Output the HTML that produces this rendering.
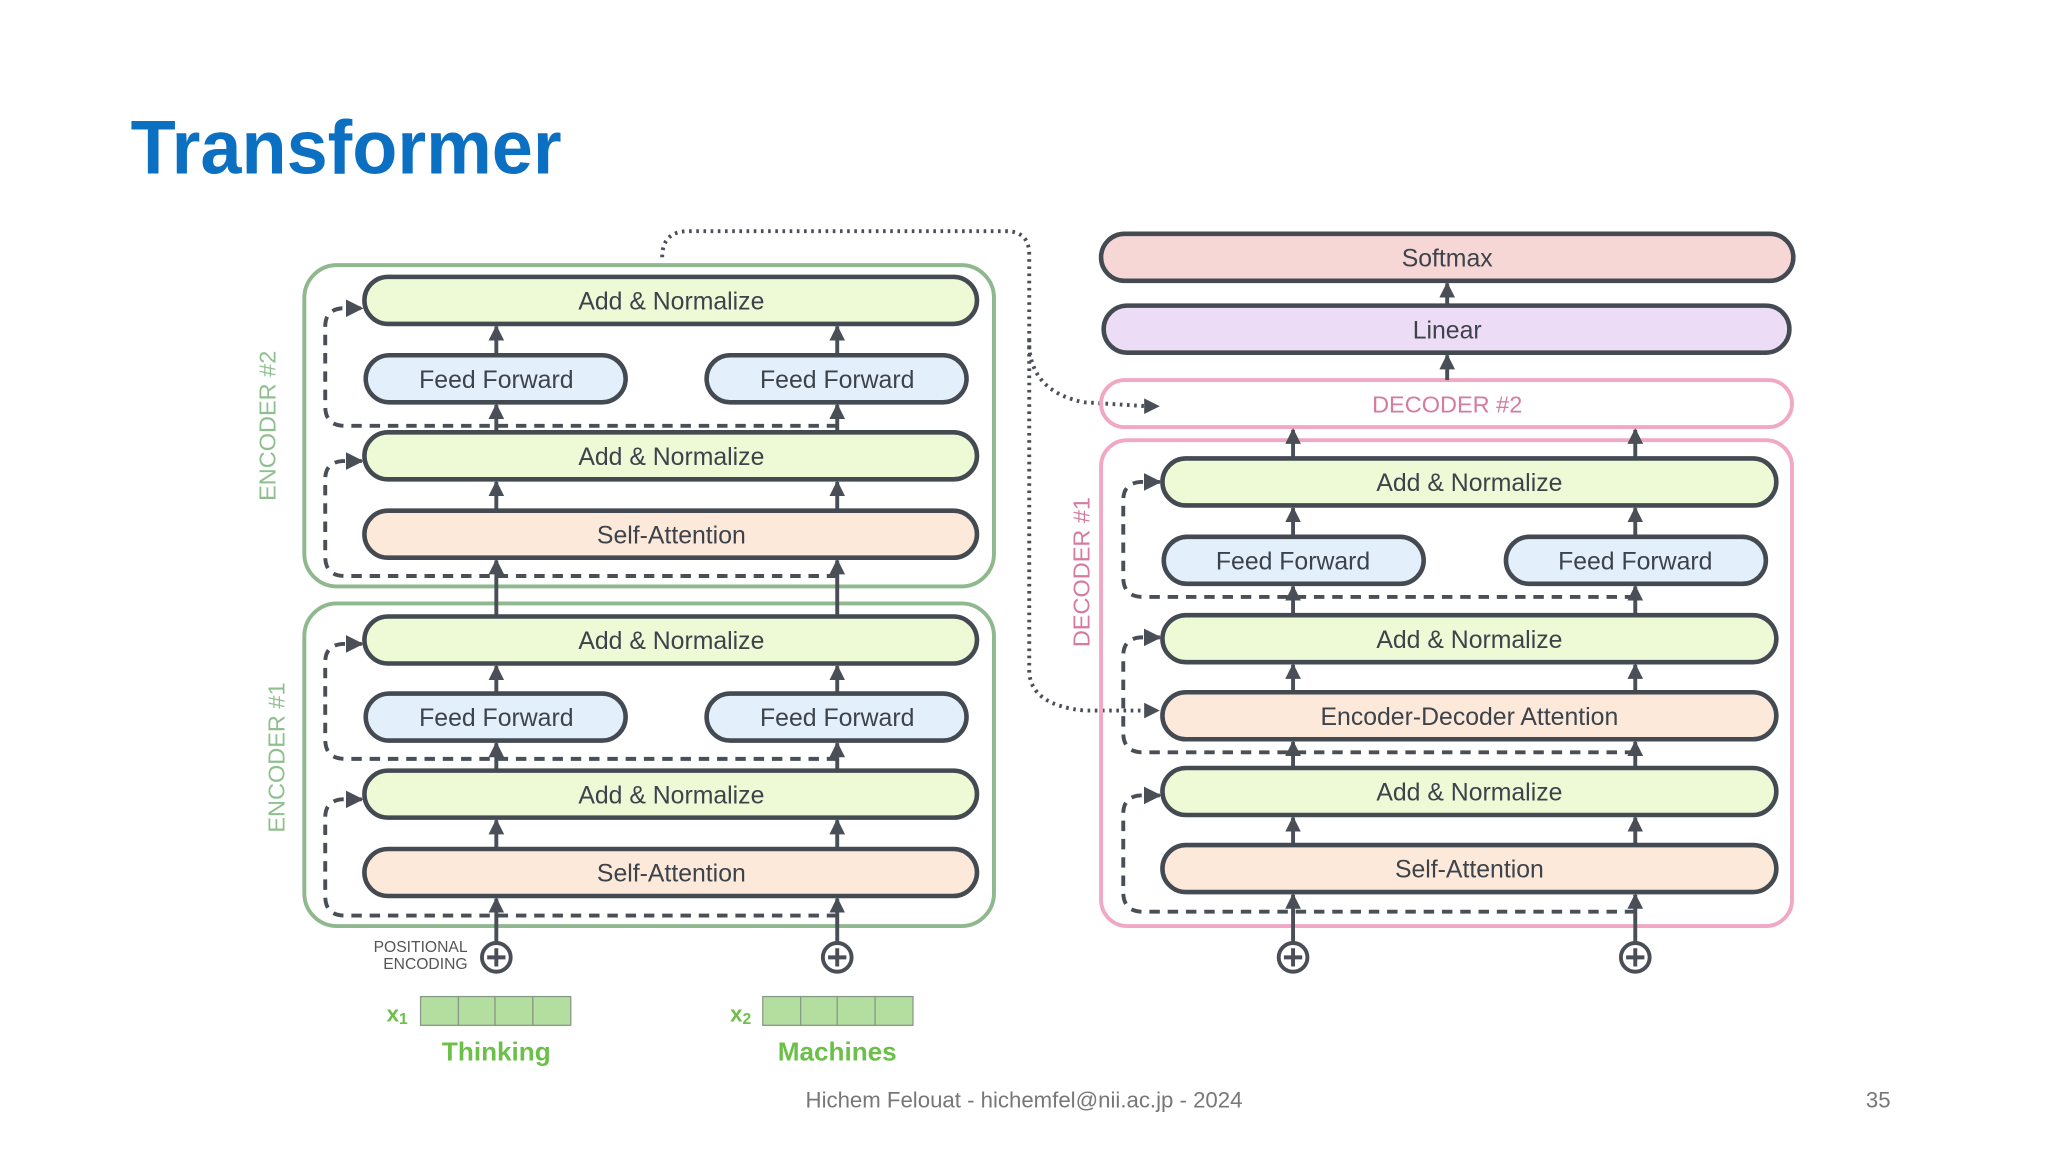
<!DOCTYPE html>
<html><head><meta charset="utf-8"><style>
html,body{margin:0;padding:0;background:#fff;}
svg{display:block;}
text{font-family:"Liberation Sans","DejaVu Sans",sans-serif;}
</style></head><body>
<svg width="2048" height="1152" viewBox="0 0 1568 882" xmlns="http://www.w3.org/2000/svg">
<defs>
<marker id="ah" viewBox="0 0 10 10" refX="9" refY="5" markerWidth="4" markerHeight="4" orient="auto" markerUnits="strokeWidth">
<path d="M0,0 L10,5 L0,10 z" fill="#4a4f57"/></marker>
<marker id="ah2" viewBox="0 0 10 10" refX="9" refY="5" markerWidth="4.5" markerHeight="4.5" orient="auto" markerUnits="strokeWidth">
<path d="M0,0 L10,5 L0,10 z" fill="#4a4f57"/></marker>
</defs>
<rect width="1568" height="882" fill="#fff"/>
<text x="100" y="133" font-size="58" font-weight="bold" fill="#0b6fc2" textLength="330" lengthAdjust="spacingAndGlyphs">Transformer</text>

<!-- dotted connector -->
<g fill="none" stroke="#4a4f57" stroke-width="3" stroke-dasharray="2 3.5">
<path d="M507,197 Q507,177 527,177 H770 Q788,177 788,195 V265 Q790,300 830,308 L878,311"/>
<path d="M788,260 V515 Q790,540 830,544 L878,544"/>
</g>
<path d="M876,305 L888,311 L876,317 z" fill="#4a4f57"/>
<path d="M876,538 L888,544 L876,550 z" fill="#4a4f57"/>

<!-- encoder containers -->
<g fill="none" stroke="#8fb88f" stroke-width="3">
<rect x="233" y="203" width="528" height="246" rx="25"/>
<rect x="233" y="462" width="528" height="247" rx="25"/>
</g>
<text transform="translate(211,326) rotate(-90)" font-size="18" fill="#8fbf8f" text-anchor="middle">ENCODER #2</text>
<text transform="translate(218,580) rotate(-90)" font-size="18" fill="#8fbf8f" text-anchor="middle">ENCODER #1</text>

<!-- decoder containers -->
<g fill="none" stroke="#f0a8c4" stroke-width="3">
<rect x="843" y="291" width="529" height="36" rx="18"/>
<rect x="843" y="337" width="529" height="372" rx="20"/>
</g>
<text x="1108" y="316" font-size="18" fill="#d67a9f" text-anchor="middle">DECODER #2</text>
<text transform="translate(834,438) rotate(-90)" font-size="18" fill="#d67a9f" text-anchor="middle">DECODER #1</text>

<!-- dashed residual loops -->
<g fill="none" stroke="#4a4f57" stroke-width="3" stroke-dasharray="8 6" marker-end="url(#ah2)">
<path d="M641,326 H264 Q249,326 249,311 V250 Q249,237 262,236 L277,236"/>
<path d="M641,441 H264 Q249,441 249,426 V367 Q249,354 262,353 L277,353"/>
<path d="M641,581 H264 Q249,581 249,566 V507 Q249,494 262,493 L277,493"/>
<path d="M641,701 H264 Q249,701 249,686 V626 Q249,613 262,612 L277,612"/>
<path d="M1252,457 H875 Q860,457 860,442 V383 Q860,370 873,369 L888,369"/>
<path d="M1252,576 H875 Q860,576 860,561 V502 Q860,489 873,488 L888,488"/>
<path d="M1252,698 H875 Q860,698 860,683 V623 Q860,610 873,609 L888,609"/>
</g>

<!-- solid arrows -->
<g stroke="#4a4f57" stroke-width="3" marker-end="url(#ah)">
<line x1="380" y1="272" x2="380" y2="250"/><line x1="641" y1="272" x2="641" y2="250"/>
<line x1="380" y1="331" x2="380" y2="310"/><line x1="641" y1="331" x2="641" y2="310"/>
<line x1="380" y1="391" x2="380" y2="369"/><line x1="641" y1="391" x2="641" y2="369"/>
<line x1="380" y1="472" x2="380" y2="429"/><line x1="641" y1="472" x2="641" y2="429"/>
<line x1="380" y1="531" x2="380" y2="510"/><line x1="641" y1="531" x2="641" y2="510"/>
<line x1="380" y1="590" x2="380" y2="569"/><line x1="641" y1="590" x2="641" y2="569"/>
<line x1="380" y1="650" x2="380" y2="628"/><line x1="641" y1="650" x2="641" y2="628"/>
<line x1="380" y1="722" x2="380" y2="688"/><line x1="641" y1="722" x2="641" y2="688"/>
<line x1="990" y1="411" x2="990" y2="389"/><line x1="1252" y1="411" x2="1252" y2="389"/>
<line x1="990" y1="471" x2="990" y2="449"/><line x1="1252" y1="471" x2="1252" y2="449"/>
<line x1="990" y1="530" x2="990" y2="509"/><line x1="1252" y1="530" x2="1252" y2="509"/>
<line x1="990" y1="588" x2="990" y2="568"/><line x1="1252" y1="588" x2="1252" y2="568"/>
<line x1="990" y1="647" x2="990" y2="626"/><line x1="1252" y1="647" x2="1252" y2="626"/>
<line x1="990" y1="722" x2="990" y2="685"/><line x1="1252" y1="722" x2="1252" y2="685"/>
<line x1="990" y1="351" x2="990" y2="329"/><line x1="1252" y1="351" x2="1252" y2="329"/>
<line x1="1108" y1="291" x2="1108" y2="272"/><line x1="1108" y1="234" x2="1108" y2="217"/>
</g>

<!-- boxes -->
<g stroke="#444a52" stroke-width="3.5">
<rect x="279" y="212" width="469" height="36" rx="18" fill="#eef9d6"/>
<rect x="280" y="272" width="199" height="36" rx="18" fill="#e3effb"/>
<rect x="541" y="272" width="199" height="36" rx="18" fill="#e3effb"/>
<rect x="279" y="331" width="469" height="36" rx="18" fill="#eef9d6"/>
<rect x="279" y="391" width="469" height="36" rx="18" fill="#fde9da"/>
<rect x="279" y="472" width="469" height="36" rx="18" fill="#eef9d6"/>
<rect x="280" y="531" width="199" height="36" rx="18" fill="#e3effb"/>
<rect x="541" y="531" width="199" height="36" rx="18" fill="#e3effb"/>
<rect x="279" y="590" width="469" height="36" rx="18" fill="#eef9d6"/>
<rect x="279" y="650" width="469" height="36" rx="18" fill="#fde9da"/>

<rect x="843" y="179" width="530" height="36" rx="18" fill="#f7d6d6"/>
<rect x="845" y="234" width="525" height="36" rx="18" fill="#ecdcf5"/>
<rect x="890" y="351" width="470" height="36" rx="18" fill="#eef9d6"/>
<rect x="891" y="411" width="199" height="36" rx="18" fill="#e3effb"/>
<rect x="1153" y="411" width="199" height="36" rx="18" fill="#e3effb"/>
<rect x="890" y="471" width="470" height="36" rx="18" fill="#eef9d6"/>
<rect x="890" y="530" width="470" height="36" rx="18" fill="#fde9da"/>
<rect x="890" y="588" width="470" height="36" rx="18" fill="#eef9d6"/>
<rect x="890" y="647" width="470" height="36" rx="18" fill="#fde9da"/>
</g>

<g font-size="19" fill="#3d434b" text-anchor="middle">
<text x="514" y="237">Add &amp; Normalize</text>
<text x="380" y="297">Feed Forward</text>
<text x="641" y="297">Feed Forward</text>
<text x="514" y="356">Add &amp; Normalize</text>
<text x="514" y="416">Self-Attention</text>
<text x="514" y="497">Add &amp; Normalize</text>
<text x="380" y="556">Feed Forward</text>
<text x="641" y="556">Feed Forward</text>
<text x="514" y="615">Add &amp; Normalize</text>
<text x="514" y="675">Self-Attention</text>
<text x="1108" y="204">Softmax</text>
<text x="1108" y="259">Linear</text>
<text x="1125" y="376">Add &amp; Normalize</text>
<text x="990" y="436">Feed Forward</text>
<text x="1252" y="436">Feed Forward</text>
<text x="1125" y="496">Add &amp; Normalize</text>
<text x="1125" y="555">Encoder-Decoder Attention</text>
<text x="1125" y="613">Add &amp; Normalize</text>
<text x="1125" y="672">Self-Attention</text>
</g>

<!-- plus circles -->
<g fill="#fff" stroke="#4a4f57" stroke-width="3">
<circle cx="380" cy="733" r="11"/><circle cx="641" cy="733" r="11"/>
<circle cx="990" cy="733" r="11"/><circle cx="1252" cy="733" r="11"/>
</g>
<g stroke="#4a4f57" stroke-width="3">
<path d="M373,733 H387 M380,726 V740 M634,733 H648 M641,726 V740 M983,733 H997 M990,726 V740 M1245,733 H1259 M1252,726 V740"/>
</g>
<g font-size="12" fill="#555" text-anchor="end">
<text x="358" y="729">POSITIONAL</text>
<text x="358" y="742">ENCODING</text>
</g>

<!-- embeddings -->
<g fill="#b3dea0" stroke="#8a9a88" stroke-width="1">
<rect x="322" y="763" width="29" height="22"/><rect x="351" y="763" width="28" height="22"/><rect x="379" y="763" width="29" height="22"/><rect x="408" y="763" width="29" height="22"/>
<rect x="584" y="763" width="29" height="22"/><rect x="613" y="763" width="28" height="22"/><rect x="641" y="763" width="29" height="22"/><rect x="670" y="763" width="29" height="22"/>
</g>
<g fill="#6cc04a" font-weight="bold">
<text x="296" y="782" font-size="17">x<tspan font-size="12" dy="2">1</tspan></text>
<text x="559" y="782" font-size="17">x<tspan font-size="12" dy="2">2</tspan></text>
<text x="380" y="812" font-size="20" text-anchor="middle">Thinking</text>
<text x="641" y="812" font-size="20" text-anchor="middle">Machines</text>
</g>

<text x="784" y="848" font-size="17" fill="#777" text-anchor="middle">Hichem Felouat - hichemfel@nii.ac.jp - 2024</text>
<text x="1438" y="848" font-size="17" fill="#777" text-anchor="middle">35</text>
</svg>
</body></html>
